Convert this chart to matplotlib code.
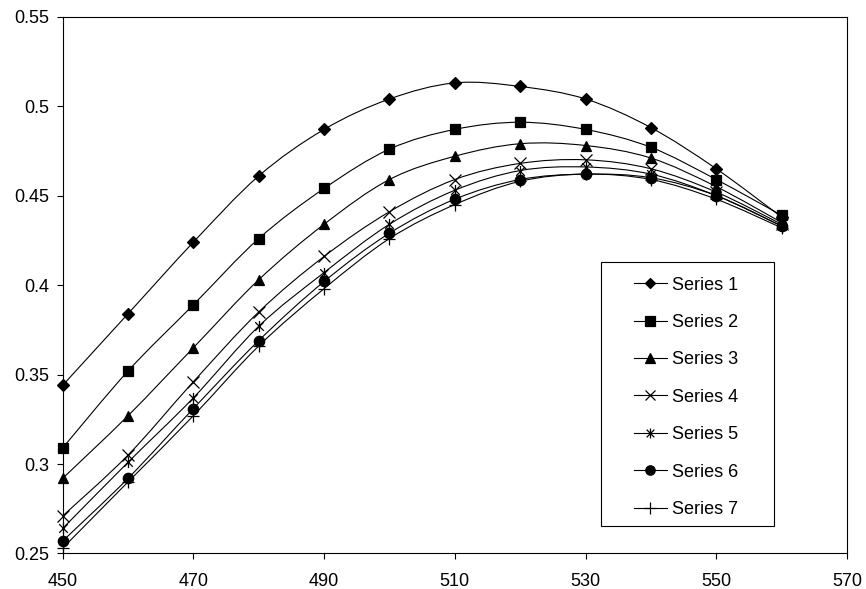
import numpy as np
import matplotlib
matplotlib.use('Agg')
import matplotlib.pyplot as plt
from matplotlib.path import Path
from matplotlib.patches import PathPatch, Rectangle
from matplotlib.lines import Line2D

plt.rcParams['font.family'] = ['Liberation Sans', 'DejaVu Sans']

# wavelengths and the seven series
x = [450, 460, 470, 480, 490, 500, 510, 520, 530, 540, 550, 560]
s1 = [0.344, 0.384, 0.424, 0.461, 0.487, 0.504, 0.513, 0.511, 0.504, 0.488, 0.465, 0.438]
s2 = [0.309, 0.352, 0.389, 0.426, 0.454, 0.476, 0.487, 0.491, 0.487, 0.477, 0.459, 0.439]
s3 = [0.292, 0.327, 0.365, 0.403, 0.434, 0.459, 0.472, 0.479, 0.478, 0.471, 0.455, 0.435]
s4 = [0.271, 0.305, 0.346, 0.385, 0.416, 0.441, 0.459, 0.468, 0.470, 0.465, 0.452, 0.434]
s5 = [0.264, 0.301, 0.337, 0.377, 0.407, 0.434, 0.453, 0.464, 0.466, 0.462, 0.450, 0.433]
s6 = [0.257, 0.292, 0.331, 0.369, 0.402, 0.429, 0.448, 0.459, 0.462, 0.460, 0.450, 0.433]
s7 = [0.253, 0.290, 0.327, 0.366, 0.398, 0.426, 0.445, 0.458, 0.462, 0.459, 0.448, 0.432]
series = [s1, s2, s3, s4, s5, s6, s7]
labels = ['Series 1', 'Series 2', 'Series 3', 'Series 4', 'Series 5', 'Series 6', 'Series 7']

# asterisk marker like the spreadsheet one: an x with a vertical bar
asterisk = Path([(-1, -1), (1, 1), (-1, 1), (1, -1), (0, -1.3), (0, 1.3)],
                [Path.MOVETO, Path.LINETO, Path.MOVETO, Path.LINETO, Path.MOVETO, Path.LINETO])
markers = ['D', 's', '^', 'x', asterisk, 'o', '+']
sizes = [6, 7.5, 7.5, 8, 8, 7.5, 9]


def smooth_path(xs, ys):
    # bezier curve through the points, same style as a "smoothed line" chart
    p = np.column_stack([xs, ys]).astype(float)
    n = len(p)
    verts = [p[0]]
    codes = [Path.MOVETO]
    for i in range(n - 1):
        prev = p[i - 1] if i > 0 else p[i]
        nxt = p[i + 2] if i + 2 < n else p[i + 1]
        c1 = p[i] + (p[i + 1] - prev) / 6
        c2 = p[i + 1] - (nxt - p[i]) / 6
        verts += [c1, c2, p[i + 1]]
        codes += [Path.CURVE4] * 3
    return Path(verts, codes)


fig = plt.figure(figsize=(8.66, 5.89), dpi=100)
ax = fig.add_axes([0.0724, 0.0603, 0.9056, 0.9114])

handles = []
for ys, m, ms, lab in zip(series, markers, sizes, labels):
    ax.add_patch(PathPatch(smooth_path(x, ys), facecolor='none', edgecolor='black', lw=0.8, zorder=2))
    ax.plot(x, ys, linestyle='none', marker=m, ms=ms, color='black', mfc='black', mec='black',
            mew=0.9, zorder=3, clip_on=False)
    handles.append(Line2D([], [], color='black', lw=0.8, marker=m, ms=ms * 0.9, mfc='black',
                          mec='black', mew=0.9))

ax.set_xlim(450, 570)
ax.set_ylim(0.25, 0.55)
ax.set_xticks(np.arange(450, 571, 20))
ax.set_yticks([0.25, 0.3, 0.35, 0.4, 0.45, 0.5, 0.55])
ax.set_yticklabels(['0.25', '0.3', '0.35', '0.4', '0.45', '0.5', '0.55'])
ax.tick_params(direction='out', length=4, width=0.8, labelsize=13, pad=6, colors='black')
ax.tick_params(axis='x', pad=10)
for sp in ax.spines.values():
    sp.set_linewidth(0.8)
    sp.set_color('black')

# legend box drawn separately so it can be wider than its contents
ax.add_patch(Rectangle((0.687, 0.0512), 0.2197, 0.4922, transform=ax.transAxes,
                       facecolor='white', edgecolor='black', lw=0.8, zorder=4))
leg = ax.legend(handles, labels, loc='center', bbox_to_anchor=(0.795, 0.291), fontsize=13,
                frameon=False, labelspacing=1.13, handlelength=1.8, handletextpad=0.3,
                borderpad=0, borderaxespad=0)
leg.set_zorder(5)

fig.savefig('out.png', dpi=100)
